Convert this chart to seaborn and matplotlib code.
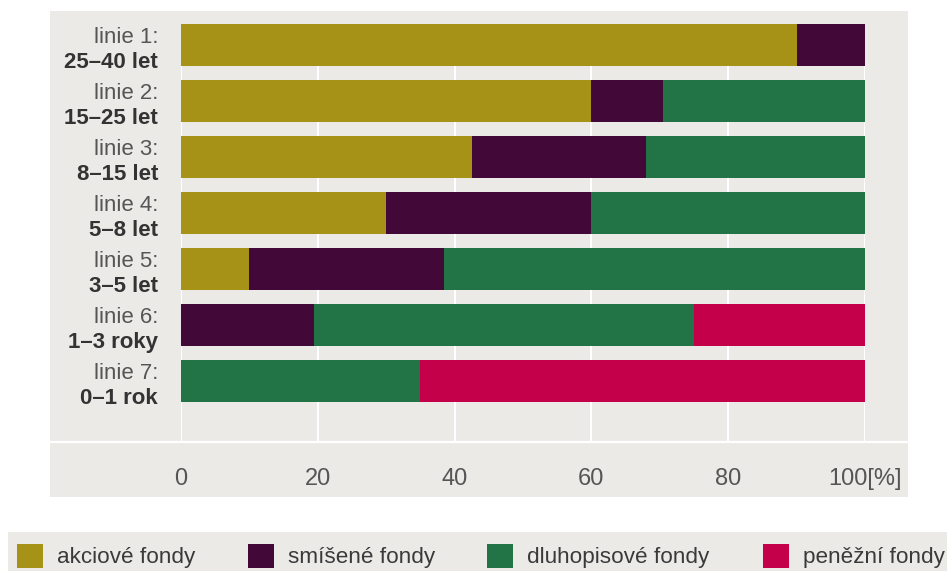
import matplotlib
matplotlib.use("Agg")
import matplotlib.pyplot as plt
import matplotlib.transforms as mtransforms
from matplotlib.patches import Rectangle, Patch
from matplotlib.lines import Line2D
import numpy as np
import pandas as pd
import seaborn as sns

# Investment lines (top to bottom)
line_names = ["linie 1:", "linie 2:", "linie 3:", "linie 4:", "linie 5:", "linie 6:", "linie 7:"]
horizons = ["25–40 let", "15–25 let", "8–15 let", "5–8 let", "3–5 let", "1–3 roky", "0–1 rok"]

# Share of each fund type per line [%]
akciove = [90, 60, 42.5, 30, 10, 0, 0]
smisene = [10, 10.5, 25.5, 30, 28.5, 19.5, 0]
dluhopisove = [0, 29.5, 32, 40, 61.5, 55.5, 35]
penezni = [0, 0, 0, 0, 0, 25, 65]

series_names = ["akciové fondy", "smíšené fondy", "dluhopisové fondy", "peněžní fondy"]
series_colors = ["#A69216", "#420837", "#227346", "#C4004A"]

tick_values = [0, 20, 40, 60, 80, 100]
tick_labels = ["0", "20", "40", "60", "80", "100[%]"]

sns.set_theme(style="white")
plt.rcParams["font.family"] = ["Liberation Sans", "DejaVu Sans"]

BG = "#ECEAE7"
W, H = 947, 571
fig = plt.figure(figsize=(W / 100, H / 100), dpi=100)
fig.patch.set_facecolor("white")

# Grey panel behind the chart and the legend strip
fig.patches.append(Rectangle((50 / W, 1 - 497 / H), (908 - 50) / W, (497 - 11) / H,
                             transform=fig.transFigure, facecolor=BG, edgecolor="none", zorder=-2))
fig.patches.append(Rectangle((8 / W, 0), (W - 8) / W, (571 - 532) / H,
                             transform=fig.transFigure, facecolor=BG, edgecolor="none", zorder=-2))
fig.lines.append(Line2D([50 / W, 908 / W], [1 - 442 / H, 1 - 442 / H],
                        transform=fig.transFigure, color="white", lw=1.6, zorder=-1))

ax = fig.add_axes([181 / W, 1 - 442 / H, (865 - 181) / W, (442 - 24) / H])
ax.set_facecolor("none")

df = pd.DataFrame({
    "linie": line_names,
    "akciove": akciove,
    "smisene": smisene,
    "dluhopisove": dluhopisove,
    "penezni": penezni,
})
cols = ["akciove", "smisene", "dluhopisove", "penezni"]
cum = df[cols].cumsum(axis=1)

# Stacked bars: draw cumulative totals from the widest down
for col, color in reversed(list(zip(cols, series_colors))):
    sns.barplot(x=cum[col], y=df["linie"], order=line_names, color=color,
                orient="h", width=0.75, saturation=1, edgecolor="none",
                linewidth=0, ax=ax, zorder=3)

ax.set_xlim(0, 100)
ax.set_ylim(7.089, -0.375)
ax.set_xticks(tick_values)
ax.set_xticklabels(tick_labels, fontsize=17, color="#555555")
ax.tick_params(axis="x", length=0, pad=19)
ax.set_yticks([])
ax.set_xlabel("")
ax.set_ylabel("")
for s in ax.spines.values():
    s.set_visible(False)
ax.grid(axis="x", color="white", lw=1.5, zorder=1)
ax.set_axisbelow(True)

# Two-line category labels: line name + bold horizon
trans = mtransforms.blended_transform_factory(ax.transAxes, ax.transData)
xlab = (158 - 181) / (865 - 181)
for i, (nm, hz) in enumerate(zip(line_names, horizons)):
    ax.text(xlab, i - 0.036, nm, transform=trans, ha="right", va="baseline",
            fontsize=16, color="#555555")
    ax.text(xlab, i + 0.41, hz, transform=trans, ha="right", va="baseline",
            fontsize=16, fontweight="bold", color="#333333")

# Legend entries along the bottom strip
legend_x = [17, 248, 487, 763]
for name, color, lx in zip(series_names, series_colors, legend_x):
    h = Patch(facecolor=color, edgecolor="none")
    fig.legend(handles=[h], labels=[name], loc="center left",
               bbox_to_anchor=(lx / W, 1 - 556 / H), frameon=False,
               fontsize=16.2, labelcolor="#3a3a3a", handlelength=1.15,
               handleheight=1.25, handletextpad=0.62, borderpad=0,
               borderaxespad=0)

fig.savefig("out.png", dpi=100, facecolor="white")
